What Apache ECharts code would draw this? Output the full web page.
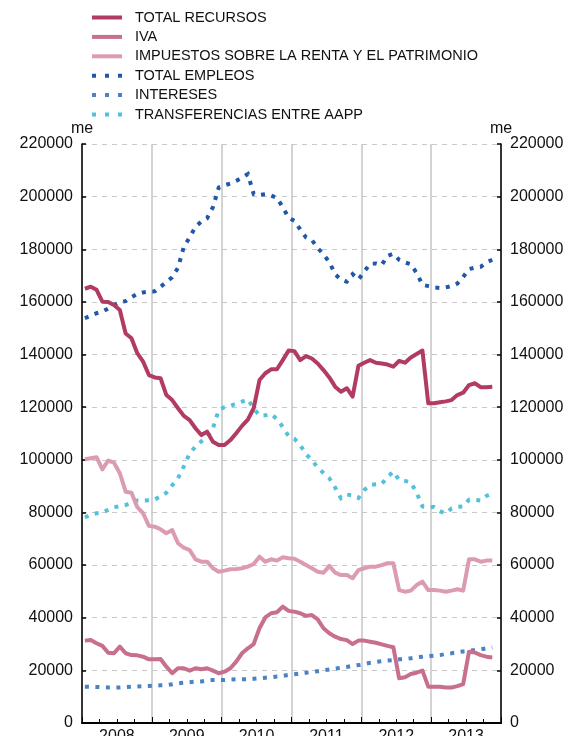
<!DOCTYPE html>
<html>
<head>
<meta charset="utf-8">
<script src="https://cdn.jsdelivr.net/npm/echarts@6/dist/echarts.min.js"></script>
<style>
  html, body { margin: 0; padding: 0; background: #ffffff; }
  #chart { width: 571px; height: 736px; }
</style>
</head>
<body>
<div id="chart"></div>
<script>
// Monthly series, millions of euros (me), January 2008 to November 2013
const years = ['2008', '2009', '2010', '2011', '2012', '2013'];
const yTicks = { min: 0, max: 220000, step: 20000 };

const totalRecursos = [
  165000, 165800, 164600, 160100, 160000, 158800, 156900, 148000, 146200, 140500, 137300, 132200,
  131300, 131000, 124600, 122700, 119600, 116700, 115100, 112000, 109400, 110700, 106900, 105600,
  105600, 107500, 110100, 112900, 115300, 119600, 130300, 132900, 134400, 134400, 137900, 141500,
  141300, 137900, 139400, 138500, 136600, 134100, 131300, 127800, 125900, 127200, 124000, 135700,
  136900, 137900, 136900, 136600, 136200, 135400, 137600, 136900, 138900, 140200, 141500, 121500,
  121500, 121900, 122200, 122700, 124600, 125500, 128400, 129100, 127600, 127600, 127800
];

const iva = [
  31300, 31500, 30300, 29300, 26700, 26500, 29000, 26500, 25800, 25700, 25200, 24200,
  24200, 24300, 21400, 18900, 20800, 20800, 19900, 20800, 20400, 20800, 19900, 18900,
  19500, 20800, 23300, 26500, 28400, 30000, 36000, 40100, 41700, 42100, 44200, 42600,
  42300, 41700, 40700, 41000, 39400, 36000, 34100, 32800, 31900, 31500, 30000, 31300,
  31300, 30900, 30500, 29900, 29300, 28800, 17000, 17400, 18600, 19100, 19900, 13800,
  13800, 13800, 13500, 13500, 14000, 14800, 27100, 26800, 25800, 25200, 24900
];

const impuestosRenta = [
  100200, 100600, 101000, 96400, 99700, 98900, 94900, 87900, 87500, 82000, 79700, 74900,
  74600, 73600, 72100, 73300, 68300, 66600, 65700, 62200, 61300, 61300, 58800, 57500,
  57900, 58400, 58500, 58800, 59400, 60400, 63200, 61300, 62200, 61700, 63000, 62600,
  62400, 61300, 60000, 58800, 57500, 57100, 59700, 57100, 56200, 56200, 55000, 58100,
  58800, 59400, 59400, 60000, 60700, 60700, 50500, 49900, 50300, 52400, 53700, 50500,
  50500, 50300, 49900, 50300, 50800, 50300, 62200, 62200, 61300, 61700, 61700
];

const totalEmpleos = [
  153800, 154800, 155700, 156300, 157500, 158800, 160000, 160300, 161800, 163000, 163600, 163900,
  164000, 165800, 167500, 169400, 173000, 181000, 184500, 188500, 190500, 191800, 196000, 203500,
  204300, 205000, 206000, 207200, 208600, 201000, 200600, 200900, 200400, 199500, 196000, 192000,
  190800, 187500, 184500, 183500, 180500, 178000, 175200, 170500, 168500, 167700, 170500, 168500,
  171500, 174500, 174600, 174000, 177500, 178300, 176000, 175000, 174300, 171000, 166500, 166000,
  165500, 165300, 165500, 166000, 167000, 169500, 172500, 173000, 173300, 175000, 176000
];

const intereses = [
  13800, 13800, 13700, 13600, 13500, 13500, 13500, 13600, 13800, 13900, 14000, 14100,
  14200, 14300, 14400, 14700, 15100, 15300, 15500, 15700, 15800, 16100, 16300, 16300,
  16300, 16500, 16600, 16600, 16600, 16800, 17000, 17200, 17400, 17700, 17900, 18300,
  18500, 18800, 19100, 19400, 19700, 20000, 20300, 20700, 21000, 21300, 21700, 22000,
  22400, 22900, 23200, 23500, 23700, 23900, 24200, 24300, 24600, 25000, 25200, 25400,
  25600, 25800, 26200, 26500, 26900, 27200, 27500, 27700, 28000, 28400, 28700
];

const transferencias = [
  78100, 79200, 79700, 80000, 81000, 82000, 82400, 82800, 83800, 84500, 84500, 84600,
  85000, 86000, 87500, 90300, 93000, 97500, 102500, 105000, 107000, 108600, 112000, 119000,
  120000, 120500, 121300, 122100, 123000, 119500, 116800, 116900, 117400, 115500, 112500, 109000,
  108000, 105600, 102100, 100000, 97000, 95000, 93000, 89500, 85400, 86800, 86500, 85500,
  88500, 90500, 90700, 90800, 93500, 95500, 92300, 92000, 91500, 87500, 82300, 82000,
  82100, 80500, 79600, 81500, 82100, 82300, 84800, 84800, 84500, 86300, 87200
];

// One category per month of every year on the axis
const months = [];
years.forEach(function (y) {
  for (let m = 1; m <= 12; m++) months.push(y + '-' + (m < 10 ? '0' + m : m));
});

const FONT = '"Liberation Sans", Arial, Helvetica, sans-serif';

// Legend swatches: a thick bar for solid lines, three square dots for dotted lines
const SOLID_ICON = 'path://M0,0h30v4h-30z';
const DOTS_ICON = 'path://M0,0h4v4h-4zM13,0h4v4h-4zM26,0h4v4h-4z';

function solid(name, color, data) {
  return {
    name: name, type: 'line', data: data, xAxisIndex: 0, yAxisIndex: 0,
    symbol: 'none', smooth: false, animation: false,
    lineStyle: { color: color, width: 4, cap: 'butt', join: 'round' },
    itemStyle: { color: color }
  };
}
function dotted(name, color, data) {
  return {
    name: name, type: 'line', data: data, xAxisIndex: 0, yAxisIndex: 0,
    symbol: 'none', smooth: false, animation: false,
    lineStyle: { color: color, width: 4, type: [4, 6.5], cap: 'butt', join: 'miter' },
    itemStyle: { color: color }
  };
}

const yAxisCommon = {
  type: 'value', min: yTicks.min, max: yTicks.max, interval: yTicks.step,
  name: 'me', nameLocation: 'end', nameGap: -1,
  nameTextStyle: { color: '#111', fontSize: 16, fontFamily: FONT },
  axisLine: { show: true, lineStyle: { color: '#000', width: 1.5 } },
  axisTick: { show: true, inside: true, length: 4, lineStyle: { color: '#000', width: 1.5 } },
  axisLabel: {
    color: '#111', fontSize: 16, fontFamily: FONT, margin: 9,
    formatter: function (v) { return String(v); }
  }
};

const chart = echarts.init(document.getElementById('chart'), null, { renderer: 'canvas' });
chart.setOption({
  backgroundColor: '#ffffff',
  animation: false,
  grid: { left: 82, right: 70, top: 144, bottom: 13, containLabel: false, outerBoundsMode: 'none' },
  legend: {
    orient: 'vertical', left: 92, top: 10, padding: 0,
    itemWidth: 30, itemHeight: 4, itemGap: 4.4,
    textStyle: { color: '#111', fontSize: 14.5, fontFamily: FONT, lineHeight: 14, padding: [0, 0, 0, 8] },
    data: [
      { name: 'TOTAL RECURSOS', icon: SOLID_ICON },
      { name: 'IVA', icon: SOLID_ICON },
      { name: 'IMPUESTOS SOBRE LA RENTA Y EL PATRIMONIO', icon: SOLID_ICON },
      { name: 'TOTAL EMPLEOS', icon: DOTS_ICON },
      { name: 'INTERESES', icon: DOTS_ICON },
      { name: 'TRANSFERENCIAS ENTRE AAPP', icon: DOTS_ICON }
    ],
    selectedMode: false
  },
  xAxis: [
    {
      type: 'category', data: months, boundaryGap: true, position: 'bottom',
      axisLine: { show: true, lineStyle: { color: '#000', width: 2 } },
      axisTick: {
        show: true, inside: true, length: 4,
        interval: function (i) { return i % 3 === 0; },
        lineStyle: { color: '#000', width: 1 }
      },
      axisLabel: { show: false },
      splitLine: { show: false }
    },
    {
      type: 'category', data: years, boundaryGap: true, position: 'bottom',
      axisLine: { show: false },
      axisTick: { show: true, inside: true, length: 6, lineStyle: { color: '#000', width: 1 } },
      axisLabel: { show: true, color: '#111', fontSize: 16, fontFamily: FONT, margin: 6 },
      splitLine: { show: true, lineStyle: { color: '#c4c4c4', width: 1.5 } }
    }
  ],
  yAxis: [
    Object.assign({}, yAxisCommon, {
      position: 'left',
      splitLine: { show: true, lineStyle: { color: '#c8c8c8', width: 1, type: [5, 5] } }
    }),
    Object.assign({}, yAxisCommon, {
      position: 'right',
      splitLine: { show: false }
    })
  ],
  series: [
    dotted('TOTAL EMPLEOS', '#2057a6', totalEmpleos),
    dotted('INTERESES', '#4a82c6', intereses),
    dotted('TRANSFERENCIAS ENTRE AAPP', '#52c2dc', transferencias),
    solid('IMPUESTOS SOBRE LA RENTA Y EL PATRIMONIO', '#dc9bb0', impuestosRenta),
    solid('IVA', '#c86e8e', iva),
    solid('TOTAL RECURSOS', '#b23b63', totalRecursos)
  ]
});
</script>
</body>
</html>
